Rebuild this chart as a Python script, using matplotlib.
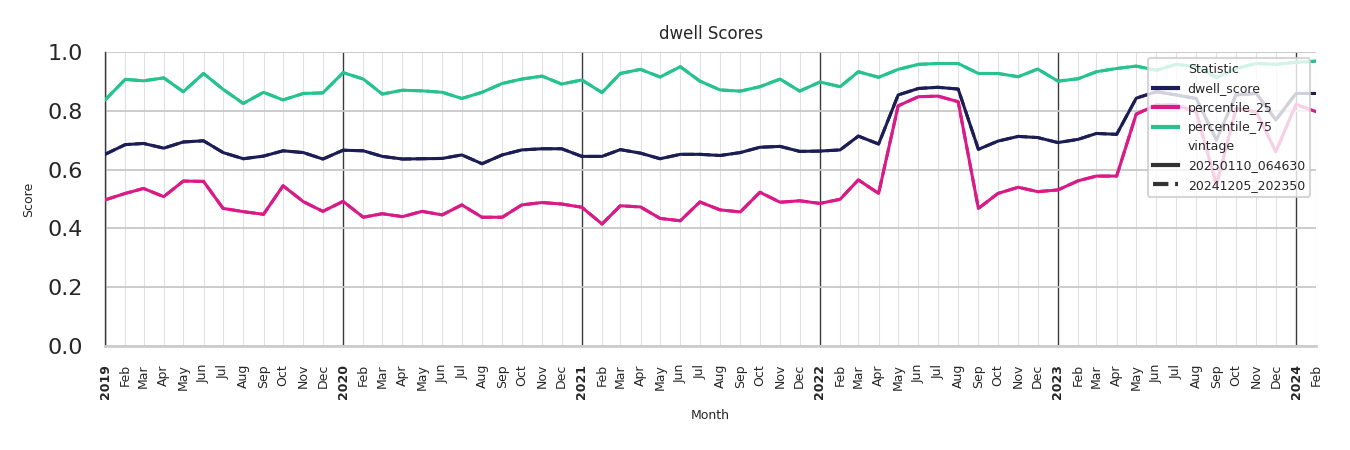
import matplotlib
matplotlib.use("Agg")
import matplotlib.pyplot as plt
import matplotlib.dates as mdates
from matplotlib.lines import Line2D
import numpy as np
import pandas as pd

# monthly scores, Jan 2019 .. Feb 2024
months = pd.date_range("2019-01-01", "2024-02-01", freq="MS")

dwell_score = [
    0.652, 0.685, 0.689, 0.673, 0.694, 0.698, 0.658, 0.637, 0.646, 0.664, 0.658, 0.636,
    0.666, 0.664, 0.645, 0.636, 0.637, 0.638, 0.650, 0.620, 0.650, 0.667, 0.671, 0.671,
    0.645, 0.645, 0.668, 0.656, 0.637, 0.652, 0.652, 0.648, 0.658, 0.676, 0.679, 0.662,
    0.663, 0.667, 0.714, 0.687, 0.854, 0.876, 0.880, 0.874, 0.669, 0.697, 0.713, 0.709,
    0.692, 0.703, 0.723, 0.720, 0.843, 0.865, 0.854, 0.842, 0.701, 0.854, 0.859, 0.769,
    0.859, 0.859,
]
percentile_25 = [
    0.497, 0.519, 0.536, 0.508, 0.561, 0.560, 0.468, 0.457, 0.448, 0.545, 0.491, 0.458,
    0.492, 0.438, 0.450, 0.440, 0.458, 0.446, 0.480, 0.438, 0.438, 0.480, 0.488, 0.483,
    0.472, 0.415, 0.477, 0.473, 0.434, 0.426, 0.490, 0.463, 0.456, 0.523, 0.489, 0.494,
    0.485, 0.499, 0.565, 0.519, 0.817, 0.848, 0.850, 0.831, 0.468, 0.519, 0.540, 0.525,
    0.531, 0.562, 0.578, 0.578, 0.789, 0.820, 0.820, 0.797, 0.548, 0.808, 0.797, 0.661,
    0.822, 0.797,
]
percentile_75 = [
    0.837, 0.907, 0.902, 0.912, 0.865, 0.927, 0.873, 0.825, 0.863, 0.837, 0.859, 0.861,
    0.930, 0.908, 0.857, 0.870, 0.868, 0.863, 0.842, 0.863, 0.893, 0.908, 0.918, 0.891,
    0.905, 0.862, 0.927, 0.941, 0.915, 0.950, 0.901, 0.871, 0.867, 0.882, 0.908, 0.867,
    0.898, 0.882, 0.933, 0.914, 0.941, 0.958, 0.961, 0.961, 0.927, 0.927, 0.916, 0.942,
    0.901, 0.909, 0.933, 0.944, 0.952, 0.938, 0.958, 0.950, 0.913, 0.944, 0.961, 0.958,
    0.965, 0.969,
]

statistics = ["dwell_score", "percentile_25", "percentile_75"]
colors = {"dwell_score": "#1c1d55", "percentile_25": "#d81b87", "percentile_75": "#27c38e"}
vintages = ["20250110_064630", "20241205_202350"]
vintage_styles = {"20250110_064630": "-", "20241205_202350": "--"}

# both vintages carry the same values
series = {
    "dwell_score": dwell_score,
    "percentile_25": percentile_25,
    "percentile_75": percentile_75,
}

text_col = "#262626"
plt.rcParams["font.family"] = "DejaVu Sans"

fig = plt.figure(figsize=(13.5, 4.5), dpi=100)
ax = fig.add_axes([0.0778, 0.2311, 0.8972, 0.6533])

for vint in vintages[::-1]:
    for stat in statistics:
        ax.plot(months, series[stat], color=colors[stat], lw=2.2,
                linestyle=vintage_styles[vint], zorder=3)

ax.set_xlim(months[0], months[-1])
ax.set_ylim(0, 1.0)
ax.set_yticks(np.arange(0, 1.01, 0.2))
ax.yaxis.set_major_formatter(matplotlib.ticker.FormatStrFormatter("%.1f"))

ax.xaxis.set_major_locator(mdates.YearLocator())
ax.xaxis.set_major_formatter(mdates.DateFormatter("%Y"))
ax.xaxis.set_minor_locator(mdates.MonthLocator(bymonth=range(2, 13)))
ax.xaxis.set_minor_formatter(mdates.DateFormatter("%b"))

ax.grid(axis="y", which="major", color="#c8c8c8", lw=1.3, zorder=0)
ax.grid(axis="x", which="major", color="#3a3a3a", lw=1.0, zorder=1)
ax.grid(axis="x", which="minor", color="#e0e0e0", lw=0.8, zorder=0)
ax.set_axisbelow(True)

ax.tick_params(axis="y", length=0, pad=16, labelsize=16, labelcolor=text_col)
ax.tick_params(axis="x", which="both", length=0, pad=13, labelsize=9,
               labelcolor=text_col, rotation=90)
for lab in ax.get_xticklabels(which="major"):
    lab.set_fontweight("bold")

for side in ["top", "right"]:
    ax.spines[side].set_visible(False)
ax.spines["left"].set_color("#3a3a3a")
ax.spines["left"].set_linewidth(1.0)
ax.spines["bottom"].set_color("#cccccc")
ax.spines["bottom"].set_linewidth(2.0)

ax.set_title("dwell Scores", fontsize=12, color=text_col, pad=9.5)
ax.set_xlabel("Month", fontsize=9, color=text_col, labelpad=7.5)
ax.set_ylabel("Score", fontsize=9, color=text_col, labelpad=9)

handles = [Line2D([], [], color="none", label="Statistic")]
for stat in statistics:
    handles.append(Line2D([], [], color=colors[stat], lw=3, label=stat))
handles.append(Line2D([], [], color="none", label="vintage"))
for vint in vintages:
    handles.append(Line2D([], [], color="#333333", lw=3,
                          linestyle=vintage_styles[vint], label=vint))
leg = ax.legend(handles=handles, loc="upper right", fontsize=9, framealpha=0.8,
                edgecolor="#cccccc", fancybox=True)
leg.get_frame().set_linewidth(1.5)
for t in leg.get_texts():
    t.set_color(text_col)
leg.set_zorder(5)

fig.savefig("out.png", dpi=100)
